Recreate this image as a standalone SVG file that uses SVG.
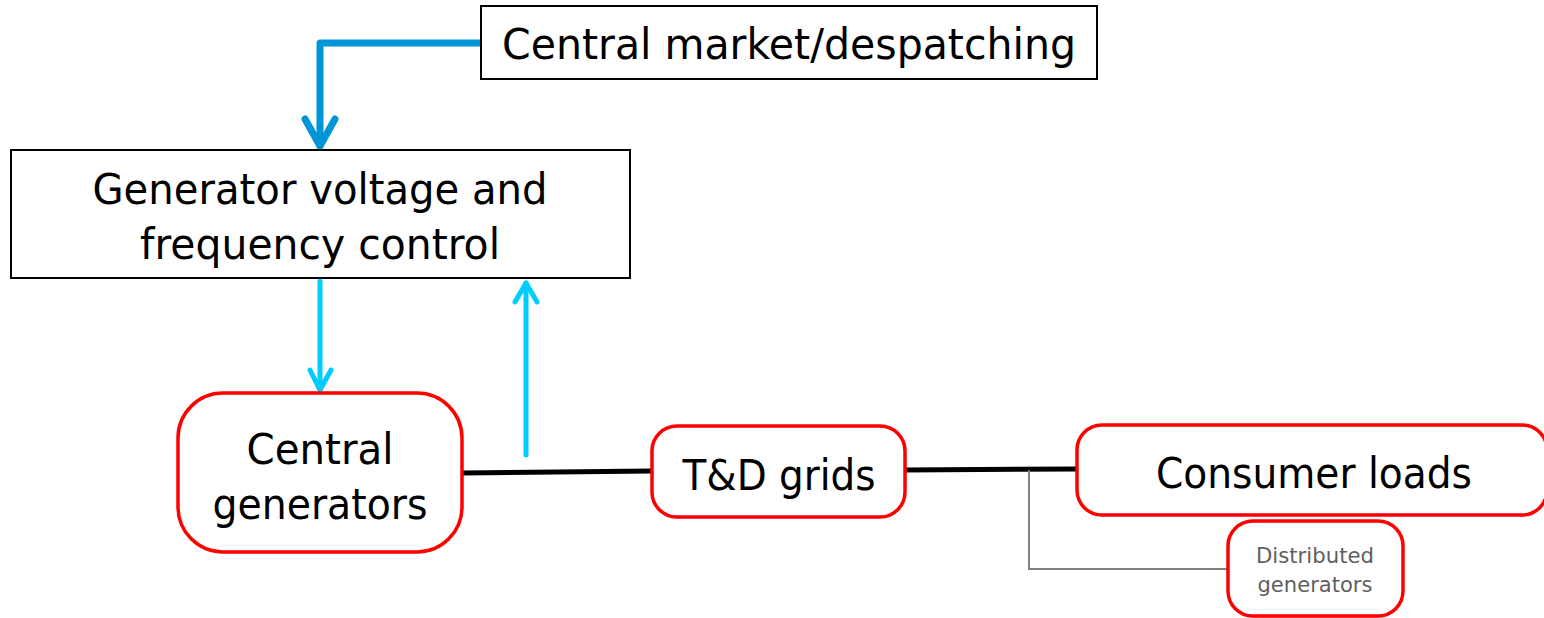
<svg xmlns="http://www.w3.org/2000/svg" width="1544" height="618" viewBox="0 0 1544 618">
<style>
.box{fill:#fff;stroke:#000;stroke-width:2}
.rbox{fill:#fff;stroke:#f00;stroke-width:3.5}
.t{font-family:"DejaVu Sans","Liberation Sans",sans-serif;font-size:42px;fill:#000;text-anchor:middle}
.s{font-family:"DejaVu Sans","Liberation Sans",sans-serif;font-size:21px;fill:#5f5f5f;text-anchor:middle}
.blue{fill:none;stroke:#0095d6;stroke-width:7;stroke-linecap:round;stroke-linejoin:round}
.cyan{fill:none;stroke:#00ccff;stroke-width:5;stroke-linecap:round;stroke-linejoin:round}
.wire{fill:none;stroke:#000;stroke-width:5}
.thin{fill:none;stroke:#808080;stroke-width:2}
</style>
<rect width="1544" height="618" fill="#fff"/>
<g id="connectors">
<path class="blue" d="M481,43 H320 V146"/>
<path class="blue" d="M305,119 L320,146 L335,119"/>
<path class="cyan" d="M320,281 V390"/>
<path class="cyan" d="M310,370 L320,390 L331,370"/>
<path class="cyan" d="M526,455 V283"/>
<path class="cyan" d="M515,302 L526,283 L537,302"/>
<path class="wire" d="M462,473 L652,471"/>
<path class="wire" d="M905,470 L1077,469"/>
<path class="thin" d="M1029,470 V569 H1228"/>
</g>
<g id="central-market">
<rect class="box" x="481" y="6" width="616" height="73"/>
<text class="t" x="789" y="59" textLength="574" lengthAdjust="spacingAndGlyphs">Central market/despatching</text>
</g>
<g id="generator-control">
<rect class="box" x="11" y="150" width="619" height="128"/>
<text class="t" x="320" y="204" textLength="455" lengthAdjust="spacingAndGlyphs">Generator voltage and</text>
<text class="t" x="320" y="259" textLength="360" lengthAdjust="spacingAndGlyphs">frequency control</text>
</g>
<g id="central-generators">
<rect class="rbox" x="178" y="393" width="284" height="159" rx="45"/>
<text class="t" x="320" y="464" textLength="147" lengthAdjust="spacingAndGlyphs">Central</text>
<text class="t" x="320" y="519" textLength="215" lengthAdjust="spacingAndGlyphs">generators</text>
</g>
<g id="td-grids">
<rect class="rbox" x="652" y="426" width="253" height="91" rx="25"/>
<text class="t" x="779" y="490" textLength="193" lengthAdjust="spacingAndGlyphs">T&amp;D grids</text>
</g>
<g id="consumer-loads">
<rect class="rbox" x="1077" y="425" width="470" height="90" rx="25"/>
<text class="t" x="1314" y="488" textLength="316" lengthAdjust="spacingAndGlyphs">Consumer loads</text>
</g>
<g id="distributed-generators">
<rect class="rbox" x="1228" y="521" width="175" height="95" rx="25"/>
<text class="s" x="1315" y="563" textLength="118" lengthAdjust="spacingAndGlyphs">Distributed</text>
<text class="s" x="1315" y="592" textLength="115" lengthAdjust="spacingAndGlyphs">generators</text>
</g>
</svg>
